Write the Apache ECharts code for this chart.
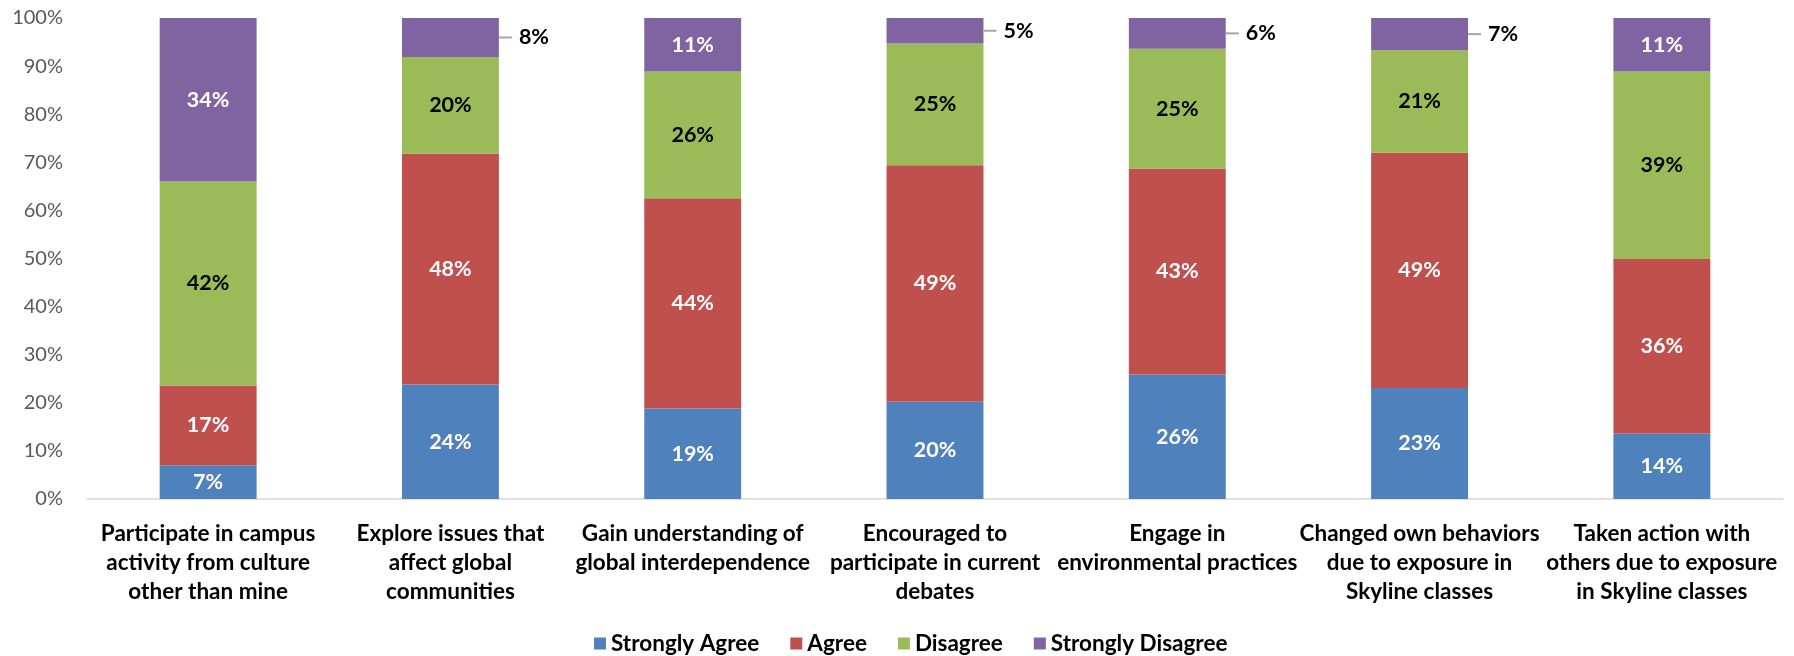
<!DOCTYPE html>
<html>
<head>
<meta charset="utf-8">
<script src="https://cdn.jsdelivr.net/npm/echarts@6/dist/echarts.min.js"></script>
<style>html,body{margin:0;padding:0;background:#fff;}#c{width:1794px;height:656px;}</style>
</head>
<body>
<div id="c"></div>
<script>
const categories = [
  'Participate in campus\nactivity from culture\nother than mine',
  'Explore issues that\naffect global\ncommunities',
  'Gain understanding of\nglobal interdependence',
  'Encouraged to\nparticipate in current\ndebates',
  'Engage in\nenvironmental practices',
  'Changed own behaviors\ndue to exposure in\nSkyline classes',
  'Taken action with\nothers due to exposure\nin Skyline classes'
];
const seriesNames = ['Strongly Agree', 'Agree', 'Disagree', 'Strongly Disagree'];
const stronglyAgree = [7.0, 23.8, 18.8, 20.2, 25.9, 23.1, 13.6];
const agree = [16.6, 48.0, 43.7, 49.2, 42.8, 48.9, 36.3];
const disagree = [42.4, 20.1, 26.4, 25.3, 24.9, 21.3, 39.0];
const stronglyDisagree = [34.0, 8.1, 11.1, 5.3, 6.4, 6.7, 11.1];
const yTicks = [0, 10, 20, 30, 40, 50, 60, 70, 80, 90, 100];

const colors = ['#4F81BD', '#C0504D', '#9BBB59', '#8064A2'];
const labelColors = ['#ffffff', '#ffffff', '#000000', '#ffffff'];
const FONT = 'Lato, "Open Sans", sans-serif';

function makeSeries(name, values, idx) {
  return {
    name: name,
    type: 'bar',
    stack: 'total',
    barWidth: '40%',
    itemStyle: { color: colors[idx] },
    label: {
      show: true,
      position: 'inside',
      color: labelColors[idx],
      fontFamily: FONT,
      fontWeight: 'bold',
      fontSize: 21.5,
      formatter: p => Math.round(p.value) + '%'
    },
    emphasis: { disabled: true },
    data: values.map(v => {
      if (idx === 3 && v < 10) {
        return {
          value: v,
          label: {
            position: 'right',
            distance: 0,
            formatter: p => '{l|}{t|' + Math.round(p.value) + '%}',
            rich: {
              l: { width: 13, height: 2, backgroundColor: '#a6a6a6' },
              t: { color: '#000', fontFamily: FONT, fontWeight: 'bold', fontSize: 21.5, padding: [0, 0, 0, 7] }
            }
          }
        };
      }
      return v;
    })
  };
}

const chart = echarts.init(document.getElementById('c'), null, { renderer: 'canvas' });
chart.setOption({
  animation: false,
  backgroundColor: '#ffffff',
  grid: { left: 87, right: 11, top: 18, bottom: 157, containLabel: false },
  legend: {
    data: seriesNames,
    left: 589,
    top: 627,
    itemWidth: 12,
    itemHeight: 12,
    itemGap: 31,
    icon: 'rect',
    textStyle: { fontFamily: FONT, fontWeight: 'bold', fontSize: 22.5, color: '#000' }
  },
  xAxis: {
    type: 'category',
    data: categories,
    axisLine: { show: true, lineStyle: { color: '#d9d9d9', width: 1.5 } },
    axisTick: { show: false },
    axisLabel: {
      interval: 0,
      margin: 20,
      fontFamily: FONT,
      fontWeight: 'bold',
      fontSize: 22.5,
      lineHeight: 29,
      color: '#000'
    }
  },
  yAxis: {
    type: 'value',
    min: yTicks[0],
    max: yTicks[yTicks.length - 1],
    interval: 10,
    splitLine: { show: false },
    axisLine: { show: false },
    axisTick: { show: false },
    axisLabel: {
      margin: 24,
      fontFamily: FONT,
      fontSize: 20,
      color: '#595959',
      formatter: v => v + '%'
    }
  },
  series: [
    makeSeries(seriesNames[0], stronglyAgree, 0),
    makeSeries(seriesNames[1], agree, 1),
    makeSeries(seriesNames[2], disagree, 2),
    makeSeries(seriesNames[3], stronglyDisagree, 3)
  ]
});
</script>
</body>
</html>
